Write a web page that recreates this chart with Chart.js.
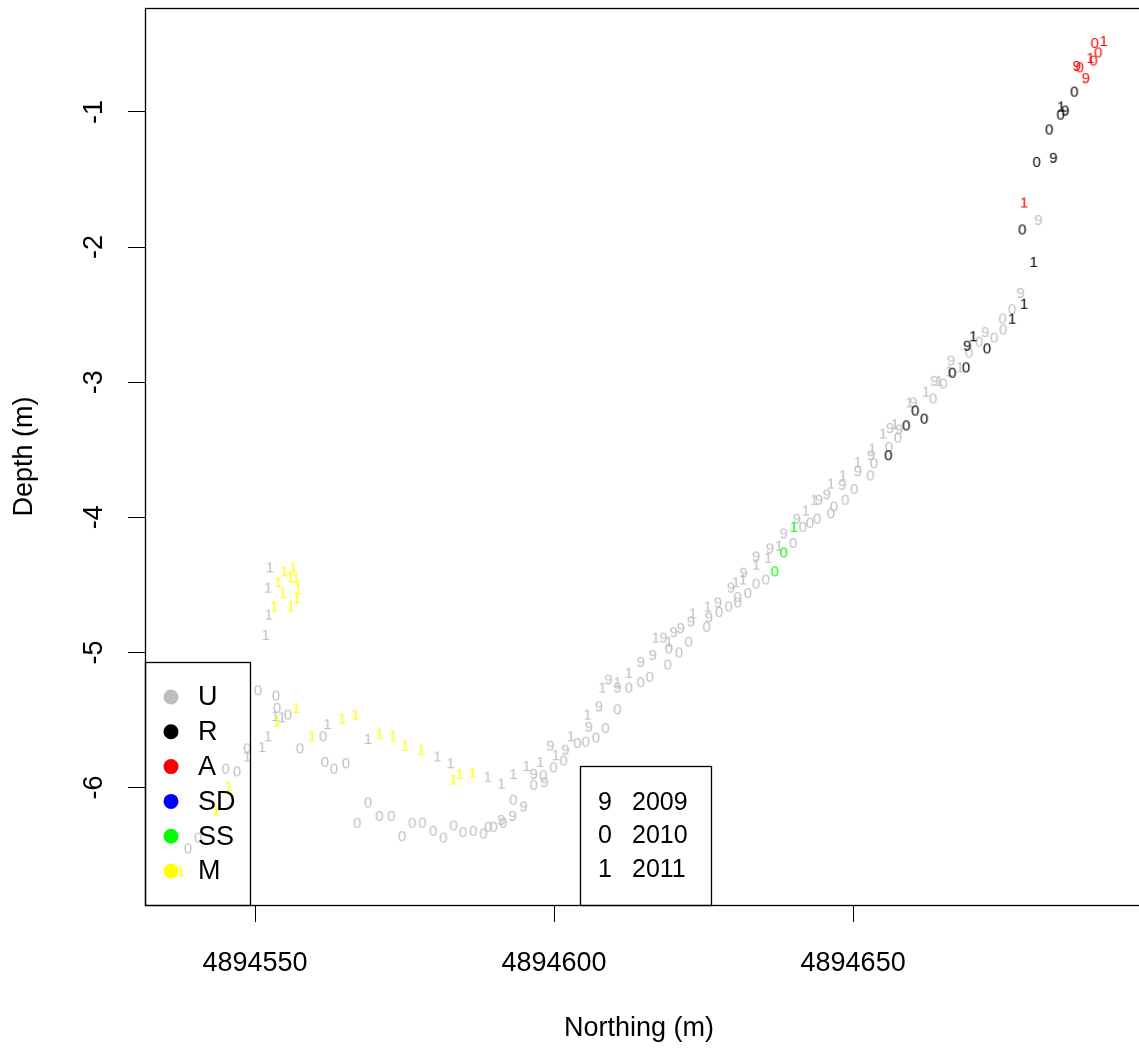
<!DOCTYPE html>
<html>
<head>
<meta charset="utf-8">
<script src="https://cdn.jsdelivr.net/npm/chart.js@4.4.0/dist/chart.umd.min.js"></script>
<style>
  html, body { margin: 0; padding: 0; background: #fff; }
</style>
</head>
<body>
<canvas id="chart" width="1139" height="1050"></canvas>
<script>
// Northing (m) / depth (m) pairs, one array per class and survey year
const U_2009 = [
  [4894681.0,-1.80],[4894678.0,-2.34],[4894672.1,-2.63],[4894666.4,-2.84],[4894663.6,-2.99],
  [4894660.1,-3.15],[4894656.2,-3.34],[4894657.7,-3.35],[4894653.0,-3.54],[4894650.8,-3.66],
  [4894648.2,-3.76],[4894645.6,-3.83],[4894644.3,-3.87],[4894640.6,-4.01],[4894638.4,-4.12],
  [4894636.1,-4.23],[4894633.8,-4.29],[4894631.7,-4.41],[4894629.6,-4.52],[4894627.4,-4.63],
  [4894625.9,-4.74],[4894622.9,-4.77],[4894621.2,-4.82],[4894620.0,-4.85],[4894618.3,-4.89],
  [4894616.5,-5.02],[4894614.5,-5.07],[4894610.6,-5.26],[4894609.1,-5.20],[4894607.5,-5.40],
  [4894605.8,-5.55],[4894601.9,-5.72],[4894599.4,-5.69],[4894598.4,-5.96],[4894596.6,-5.90],
  [4894594.9,-6.14],[4894593.1,-6.21],[4894591.2,-6.24]
];
const U_2010 = [
  [4894676.6,-2.46],[4894675.0,-2.53],[4894675.1,-2.61],[4894673.6,-2.67],[4894671.1,-2.70],
  [4894669.4,-2.78],[4894665.1,-3.01],[4894663.4,-3.12],[4894657.5,-3.41],[4894656.0,-3.48],
  [4894653.5,-3.60],[4894652.9,-3.69],[4894650.2,-3.79],[4894648.7,-3.87],[4894646.8,-3.92],
  [4894646.3,-3.97],[4894644.0,-4.01],[4894642.8,-4.04],[4894641.6,-4.07],[4894640.0,-4.19],
  [4894635.4,-4.46],[4894633.8,-4.49],[4894632.4,-4.56],[4894630.7,-4.59],[4894630.7,-4.63],
  [4894629.2,-4.66],[4894627.6,-4.70],[4894625.5,-4.81],[4894622.5,-4.92],[4894619.2,-4.97],
  [4894620.9,-5.00],[4894619.0,-5.09],[4894616.0,-5.18],[4894614.5,-5.22],[4894612.5,-5.26],
  [4894610.6,-5.42],[4894608.6,-5.56],[4894607.0,-5.63],[4894605.3,-5.66],[4894603.9,-5.67],
  [4894601.6,-5.80],[4894599.9,-5.85],[4894598.2,-5.91],[4894596.6,-5.98],[4894593.2,-6.09],
  [4894591.5,-6.26],[4894589.9,-6.29],[4894589.0,-6.29],[4894588.2,-6.34],[4894586.5,-6.32],
  [4894584.8,-6.33],[4894583.2,-6.28],[4894581.5,-6.37],[4894579.8,-6.32],[4894578.0,-6.26],
  [4894576.3,-6.26],[4894574.6,-6.36],[4894572.8,-6.21],[4894570.8,-6.21],[4894568.9,-6.11],
  [4894567.1,-6.26],[4894565.2,-5.82],[4894563.2,-5.86],[4894561.7,-5.81],[4894561.4,-5.62],
  [4894557.5,-5.71],[4894555.5,-5.46],[4894553.7,-5.41],[4894553.5,-5.32],[4894550.5,-5.28],
  [4894548.7,-5.71],[4894547.0,-5.88],[4894545.1,-5.86],[4894540.5,-6.37],[4894538.8,-6.45]
];
const U_2011 = [
  [4894666.1,-2.92],[4894667.9,-2.89],[4894664.4,-2.99],[4894662.2,-3.07],[4894659.4,-3.15],
  [4894657.0,-3.31],[4894655.0,-3.38],[4894653.2,-3.49],[4894650.8,-3.59],[4894648.3,-3.69],
  [4894646.3,-3.75],[4894643.5,-3.87],[4894642.1,-3.95],[4894637.6,-4.21],[4894635.8,-4.30],
  [4894633.8,-4.35],[4894631.6,-4.46],[4894630.4,-4.48],[4894625.7,-4.66],[4894623.2,-4.71],
  [4894619.2,-4.92],[4894617.0,-4.89],[4894612.5,-5.15],[4894610.6,-5.22],[4894608.1,-5.26],
  [4894605.6,-5.46],[4894602.8,-5.62],[4894600.3,-5.76],[4894597.7,-5.81],[4894595.4,-5.84],
  [4894593.2,-5.90],[4894591.2,-5.97],[4894588.9,-5.92],[4894582.7,-5.82],[4894580.5,-5.77],
  [4894568.9,-5.64],[4894562.1,-5.53],[4894554.5,-5.48],[4894553.4,-5.47],[4894552.2,-5.62],
  [4894551.2,-5.70],[4894548.7,-5.77],[4894552.5,-4.37],[4894552.2,-4.52],[4894552.3,-4.72],
  [4894551.8,-4.87]
];
const R_2009 = [[4894685.5,-0.99],[4894683.5,-1.34],[4894669.1,-2.73]];
const R_2010 = [
  [4894687.0,-0.85],[4894684.7,-1.02],[4894682.8,-1.13],[4894680.7,-1.37],[4894678.3,-1.87],
  [4894672.4,-2.75],[4894668.9,-2.89],[4894666.6,-2.93],[4894660.4,-3.21],[4894661.9,-3.27],
  [4894658.9,-3.32],[4894655.9,-3.54]
];
const R_2011 = [[4894684.8,-0.96],[4894680.2,-2.11],[4894678.6,-2.42],[4894676.6,-2.53],[4894670.1,-2.66]];
const A_2009 = [[4894687.4,-0.66],[4894688.9,-0.75]];
const A_2010 = [[4894690.4,-0.49],[4894691.0,-0.56],[4894690.2,-0.62],[4894687.9,-0.67]];
const A_2011 = [[4894691.9,-0.475],[4894689.7,-0.60],[4894678.6,-1.67]];
const SS_2010 = [[4894638.4,-4.26],[4894636.9,-4.40]];
const SS_2011 = [[4894640.1,-4.07]];
const M_2011 = [
  [4894559.5,-5.62],[4894564.6,-5.49],[4894566.8,-5.46],[4894570.8,-5.60],[4894573.1,-5.62],
  [4894575.1,-5.69],[4894577.8,-5.72],[4894583.2,-5.94],[4894584.2,-5.90],[4894586.4,-5.89],
  [4894556.9,-5.41],[4894553.7,-5.51],[4894545.6,-5.99],[4894543.5,-6.17],[4894537.6,-6.62],
  [4894554.9,-4.40],[4894556.4,-4.37],[4894555.9,-4.44],[4894556.9,-4.45],[4894553.9,-4.48],
  [4894554.7,-4.56],[4894557.2,-4.53],[4894557.0,-4.60],[4894553.2,-4.66],[4894556.0,-4.66]
];

const classNames = ['U', 'R', 'A', 'SD', 'SS', 'M'];
const classColors = ['#BEBEBE', '#000000', '#FF0000', '#0000FF', '#00FF00', '#FFFF00'];
const yearCodes = ['9', '0', '1'];
const yearLabels = ['2009', '2010', '2011'];
const xTicks = [4894550, 4894600, 4894650];
const yTicks = [-1, -2, -3, -4, -5, -6];

const series = [
  { cls: 'U', code: '9', pts: U_2009 },
  { cls: 'U', code: '0', pts: U_2010 },
  { cls: 'U', code: '1', pts: U_2011 },
  { cls: 'R', code: '9', pts: R_2009 },
  { cls: 'R', code: '0', pts: R_2010 },
  { cls: 'R', code: '1', pts: R_2011 },
  { cls: 'A', code: '9', pts: A_2009 },
  { cls: 'A', code: '0', pts: A_2010 },
  { cls: 'A', code: '1', pts: A_2011 },
  { cls: 'SS', code: '0', pts: SS_2010 },
  { cls: 'SS', code: '1', pts: SS_2011 },
  { cls: 'M', code: '1', pts: M_2011 }
];

const FONT = '"Liberation Sans", Arial, Helvetica, sans-serif';

// small canvas with the year digit, used as the point marker
function glyph(ch, color) {
  const c = document.createElement('canvas');
  c.width = 12;
  c.height = 16;
  const g = c.getContext('2d');
  g.font = '15px ' + FONT;
  g.fillStyle = color;
  g.textAlign = 'center';
  g.textBaseline = 'middle';
  g.fillText(ch, 6, 8.5);
  return c;
}

const datasets = series.map(s => ({
  label: s.cls + ' ' + s.code,
  data: s.pts.map(p => ({ x: p[0], y: p[1] })),
  pointStyle: glyph(s.code, classColors[classNames.indexOf(s.cls)]),
  pointRadius: 5,
  pointHoverRadius: 5,
  showLine: false,
  order: s.cls === 'U' ? 2 : 1
}));

// frame, rotated y labels and the two legends
const decorPlugin = {
  id: 'decor',
  afterDraw(chart) {
    const ctx = chart.ctx;
    const a = chart.chartArea;
    const ys = chart.scales.y;
    ctx.save();
    ctx.strokeStyle = '#000';
    ctx.lineWidth = 1.3;
    ctx.strokeRect(a.left + 0.5, a.top + 0.5, a.right - a.left + 20, a.bottom - a.top);

    ctx.fillStyle = '#000';
    ctx.font = '27px ' + FONT;
    ctx.textAlign = 'center';
    ctx.textBaseline = 'middle';
    yTicks.forEach(v => {
      const py = ys.getPixelForValue(v);
      ctx.save();
      ctx.translate(a.left - 50, py);
      ctx.rotate(-Math.PI / 2);
      ctx.fillText(String(v), 0, 0);
      ctx.restore();
    });

    // class legend, bottom left
    const l1 = { left: a.left, top: a.bottom - 243, right: a.left + 105 };
    ctx.strokeRect(l1.left + 0.5, l1.top + 0.5, l1.right - l1.left, a.bottom - l1.top);
    ctx.font = '27px ' + FONT;
    ctx.textAlign = 'left';
    classNames.forEach((name, i) => {
      const cy = l1.top + 35 + i * 34.8;
      ctx.beginPath();
      ctx.fillStyle = classColors[i];
      ctx.arc(l1.left + 26, cy, 7.5, 0, Math.PI * 2);
      ctx.fill();
      ctx.fillStyle = '#000';
      ctx.fillText(name, l1.left + 53, cy + 1);
    });

    // year code legend
    const l2 = { left: a.left + 435, top: a.bottom - 139, right: a.left + 566 };
    ctx.strokeRect(l2.left + 0.5, l2.top + 0.5, l2.right - l2.left, a.bottom - l2.top);
    ctx.font = '25px ' + FONT;
    yearCodes.forEach((code, i) => {
      const cy = l2.top + 36 + i * 33.5;
      ctx.fillText(code, l2.left + 18, cy + 1);
      ctx.fillText(yearLabels[i], l2.left + 52, cy + 1);
    });
    ctx.restore();
  }
};

new Chart(document.getElementById('chart'), {
  type: 'scatter',
  data: { datasets: datasets },
  options: {
    responsive: false,
    animation: false,
    devicePixelRatio: 1,
    layout: { padding: { top: 8, right: 0, bottom: 0, left: 0 } },
    plugins: {
      legend: { display: false },
      tooltip: { enabled: false }
    },
    scales: {
      x: {
        type: 'linear',
        min: 4894531.6,
        max: 4894696.8,
        afterBuildTicks: scale => { scale.ticks = xTicks.map(v => ({ value: v })); },
        afterFit: scale => { scale.height = 145; },
        border: { display: false },
        grid: { drawOnChartArea: false, drawTicks: true, tickLength: 17, color: '#000', tickColor: '#000' },
        ticks: {
          color: '#000',
          font: { family: FONT, size: 27 },
          padding: 25,
          maxRotation: 0,
          callback: v => String(v)
        },
        title: {
          display: true,
          text: 'Northing (m)',
          color: '#000',
          font: { family: FONT, size: 27 },
          padding: { top: 0, bottom: 5 }
        }
      },
      y: {
        type: 'linear',
        min: -6.869,
        max: -0.231,
        afterBuildTicks: scale => { scale.ticks = yTicks.map(v => ({ value: v })); },
        afterFit: scale => { scale.width = 145; scale.paddingTop = 0; scale.paddingBottom = 0; },
        border: { display: false },
        grid: { drawOnChartArea: false, drawTicks: true, tickLength: 17, color: '#000', tickColor: '#000' },
        ticks: { color: 'rgba(0,0,0,0)', font: { family: FONT, size: 1 } },
        title: {
          display: true,
          text: 'Depth (m)',
          color: '#000',
          font: { family: FONT, size: 27 },
          padding: { top: 8, bottom: 0 }
        }
      }
    }
  },
  plugins: [decorPlugin]
});
</script>
</body>
</html>
